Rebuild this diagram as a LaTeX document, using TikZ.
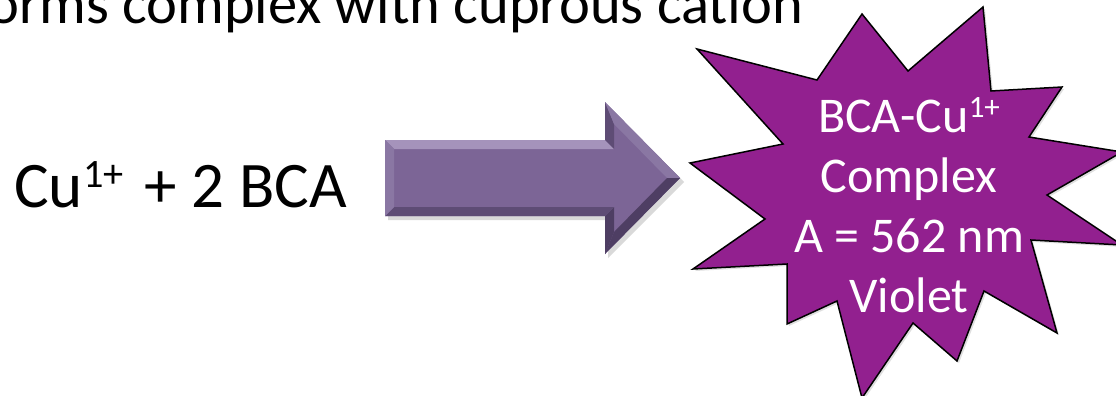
\documentclass[tikz,border=0pt]{standalone}
\usepackage{fontspec}
\usepackage{graphicx}
\setmainfont{Carlito}
\usetikzlibrary{shadows}
\definecolor{plum}{HTML}{92208F}
\definecolor{lilac}{HTML}{7C6596}
\definecolor{lilachi}{HTML}{A593BB}
\definecolor{lilacmid}{HTML}{8A77A3}
\definecolor{lilaclo}{HTML}{5E4C75}
\definecolor{lilacdk}{HTML}{4E3E63}
\colorlet{ink}{black}
\newcommand\ionsup[1]{\raisebox{0.3em}{\scalebox{0.62}{#1}}}

\begin{document}
\begin{tikzpicture}[x=1pt,y=-1pt,
    bigtext/.style={font=\fontsize{65}{78}\selectfont,inner sep=0pt},
    startext/.style={font=\fontsize{50}{60}\selectfont,white,align=center,inner sep=0pt}]
    \useasboundingbox (0,0) rectangle (1116,396);
    \clip (0,0) rectangle (1116,396);

    \node[bigtext,font=\fontsize{58.5}{70}\selectfont,anchor=base west] (title) at (-12,24)
      {orms complex with cuprous cation};
    \node[bigtext,anchor=base west] (educts) at (14,207)
      {Cu\ionsup{1+}\hspace{0.32em}+ 2 BCA};

    \fill[black,opacity=0.15] (388,144) -- (608,144) -- (608,106) -- (684,182)
      -- (608,258) -- (608,220) -- (388,220) -- cycle;
    \fill[lilac] (385,140) -- (605,140) -- (605,102) -- (680,178)
      -- (605,254) -- (605,216) -- (385,216) -- cycle;
    \fill[lilachi] (385,140) -- (605,140) -- (614,149) -- (394,149) -- cycle;
    \fill[lilaclo] (605,140) -- (605,102) -- (614,124) -- (614,149) -- cycle;
    \fill[lilacmid] (605,102) -- (680,178) -- (667,178) -- (614,124) -- cycle;
    \fill[lilacdk] (680,178) -- (605,254) -- (614,232) -- (667,178) -- cycle;
    \fill[lilacdk] (605,254) -- (605,216) -- (614,207) -- (614,232) -- cycle;
    \fill[lilaclo] (605,216) -- (385,216) -- (394,207) -- (614,207) -- cycle;
    \fill[lilacmid] (385,216) -- (385,140) -- (394,149) -- (394,207) -- cycle;

    \draw[ink,line width=1.5pt,line join=miter,fill=plum,
      drop shadow={shadow xshift=2pt,shadow yshift=-2pt,opacity=0.25}]
      (697,49) -- (817,80) -- (862,14) -- (908,71) -- (983,7) -- (991,91)
      -- (1062,87) -- (1029,137) -- (1122,152) -- (1047,195) -- (1122,245)
      -- (1031,240) -- (1057,333) -- (984,291) -- (957,361) -- (913,323)
      -- (862,398) -- (837,301) -- (787,324) -- (787,264) -- (693,269)
      -- (765,219) -- (690,163) -- (783,144) -- cycle;
    \node[startext] (complex) at (909,205)
      {BCA-Cu\ionsup{1+}\\Complex\\A = 562 nm\\Violet};
\end{tikzpicture}
\end{document}
